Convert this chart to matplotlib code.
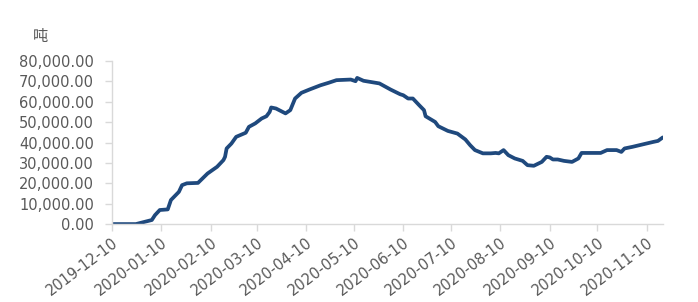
import numpy as np
import pandas as pd
import matplotlib
matplotlib.use("Agg")
import matplotlib.pyplot as plt
from matplotlib.ticker import FuncFormatter

plt.rcParams['font.family'] = ['DejaVu Sans', 'Noto Sans CJK SC']

# Data (tonnes)
dates = ["2019-12-10", "2019-12-25", "2019-12-30", "2020-01-04", "2020-01-06",
         "2020-01-09", "2020-01-14", "2020-01-16", "2020-01-21", "2020-01-23",
         "2020-01-26", "2020-02-02", "2020-02-08", "2020-02-14", "2020-02-18",
         "2020-02-19", "2020-02-20", "2020-02-23", "2020-02-26", "2020-03-03",
         "2020-03-05", "2020-03-09", "2020-03-13", "2020-03-16", "2020-03-18",
         "2020-03-19", "2020-03-22", "2020-03-28", "2020-03-31", "2020-04-03",
         "2020-04-07", "2020-04-12", "2020-04-19", "2020-04-24", "2020-04-29",
         "2020-05-08", "2020-05-11", "2020-05-12", "2020-05-16", "2020-05-26",
         "2020-06-02", "2020-06-08", "2020-06-10", "2020-06-13", "2020-06-16",
         "2020-06-20", "2020-06-23", "2020-06-24", "2020-06-30", "2020-07-02",
         "2020-07-08", "2020-07-14", "2020-07-19", "2020-07-22", "2020-07-25",
         "2020-07-30", "2020-08-04", "2020-08-07", "2020-08-09", "2020-08-12",
         "2020-08-15", "2020-08-19", "2020-08-24", "2020-08-27", "2020-08-31",
         "2020-09-05", "2020-09-08", "2020-09-10", "2020-09-12", "2020-09-15",
         "2020-09-19", "2020-09-24", "2020-09-28", "2020-09-30", "2020-10-07",
         "2020-10-12", "2020-10-16", "2020-10-22", "2020-10-25", "2020-10-27",
         "2020-11-01", "2020-11-08", "2020-11-14", "2020-11-17", "2020-11-20"]
values = [0, 0, 1000, 2000, 4400,
          6900, 7200, 11800, 15800, 19100,
          20000, 20200, 24800, 28100, 31400,
          33000, 37100, 39500, 42800, 44800,
          47700, 49400, 51800, 52900, 55000,
          57200, 56700, 54300, 55900, 61600,
          64400, 66000, 68100, 69300, 70600,
          70900, 70100, 71700, 70300, 69000,
          66000, 63700, 63200, 61600, 61600,
          58300, 55900, 52900, 50100, 48000,
          45700, 44400, 41500, 38700, 36300,
          34700, 34700, 34900, 34700, 36300,
          33800, 32200, 31000, 28900, 28600,
          30500, 33000, 32700, 31700, 31700,
          31000, 30500, 32200, 34900, 34900,
          34900, 36300, 36300, 35400, 37100,
          37900, 39200, 40300, 40800, 42500]
tick_dates = ["2019-12-10", "2020-01-10", "2020-02-10", "2020-03-10",
              "2020-04-10", "2020-05-10", "2020-06-10", "2020-07-10",
              "2020-08-10", "2020-09-10", "2020-10-10", "2020-11-10"]

x = pd.to_datetime(dates)

fig = plt.figure(figsize=(6.98, 3.02), dpi=100)
ax = fig.add_axes([0.1605, 0.258, 0.789, 0.54])

ax.plot(x, values, color="#1f497d", linewidth=2.7, solid_capstyle="round",
        solid_joinstyle="round")

ax.set_xlim(x[0], x[-1])
ax.set_ylim(0, 80000)
ax.set_yticks(np.arange(0, 80001, 10000))
ax.yaxis.set_major_formatter(FuncFormatter(lambda v, p: "{:,.2f}".format(v)))

ticks = pd.to_datetime(tick_dates)
ax.set_xticks(ticks)
ax.set_xticklabels(tick_dates, rotation=37, ha="right", rotation_mode="anchor")

for s in ["top", "right"]:
    ax.spines[s].set_visible(False)
for s in ["left", "bottom"]:
    ax.spines[s].set_color("#d9d9d9")
    ax.spines[s].set_linewidth(1.0)

ax.tick_params(axis="y", colors="#d9d9d9", labelcolor="#595959", labelsize=10.5,
               length=5, width=1, pad=8)
ax.tick_params(axis="x", colors="#d9d9d9", labelcolor="#595959", labelsize=10.5,
               length=5, width=1, pad=3)

fig.text(0.058, 0.88, "吨", fontsize=11, color="#595959", ha="center", va="center",
         family=["Noto Sans CJK SC", "DejaVu Sans"])

plt.savefig("out.png", dpi=100)
